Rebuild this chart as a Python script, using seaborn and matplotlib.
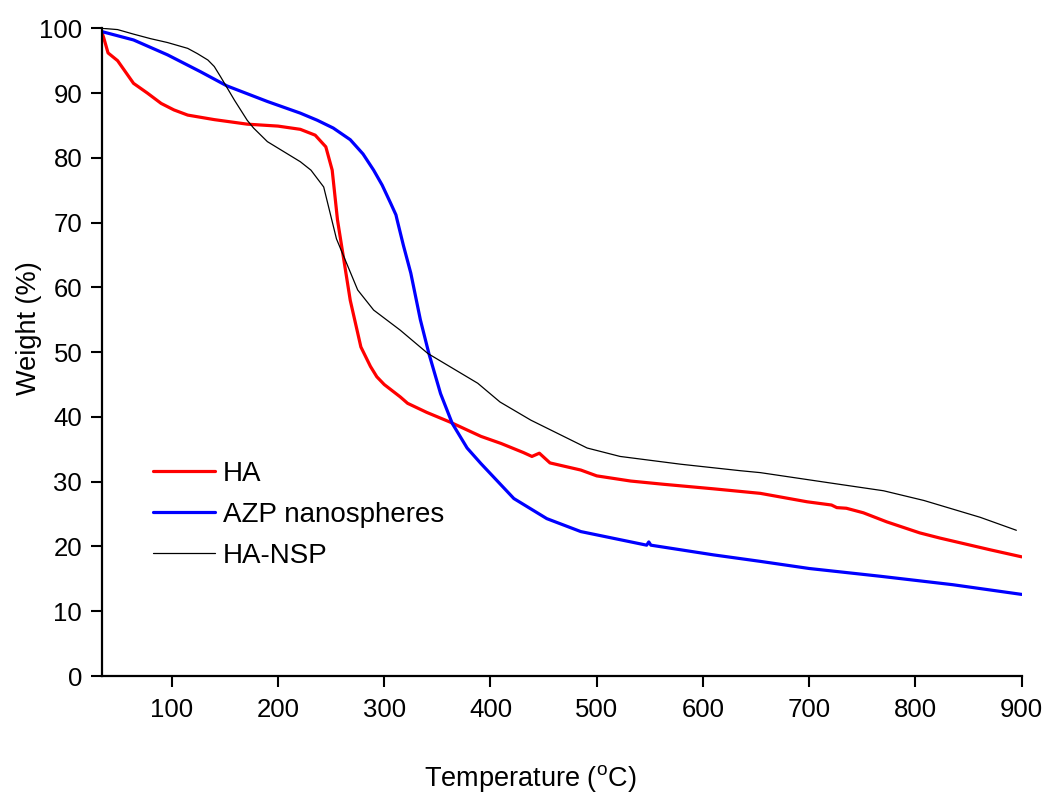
import matplotlib
matplotlib.use("Agg")
import matplotlib.pyplot as plt
import seaborn as sns
import pandas as pd

# ---- data ----
ha_temp = [34, 36, 40, 49, 64, 77, 90, 102, 115, 140, 171, 200, 221, 235, 245, 251, 256, 262,
           268, 278, 287, 293, 300, 315, 322, 340, 362, 391, 410, 431, 439, 446, 456,
           485, 500, 532, 563, 610, 654, 698, 721, 726, 735, 751, 773, 804, 823, 870, 900]
ha_weight = [99.5, 98.5, 96.2, 95.0, 91.5, 90.0, 88.4, 87.4, 86.6, 85.9, 85.2, 84.9, 84.4, 83.5,
             81.7, 78.1, 70.4, 64.2, 58.0, 50.8, 47.8, 46.2, 45.0, 43.1, 42.1, 40.7,
             39.2, 37.0, 35.9, 34.5, 33.9, 34.4, 32.9, 31.8, 30.9, 30.1, 29.6, 28.9,
             28.2, 26.9, 26.4, 26.0, 25.9, 25.2, 23.8, 22.1, 21.3, 19.5, 18.4]

azp_temp = [34, 64, 96, 127, 152, 190, 221, 237, 252, 268, 280, 290, 298, 306, 311, 312,
            318, 325, 334, 342, 353, 364, 378, 391, 422, 453, 485, 547, 549, 551, 610, 654,
            700, 767, 835, 900]
azp_weight = [99.5, 98.2, 95.9, 93.3, 91.1, 88.7, 86.9, 85.8, 84.6, 82.8, 80.6, 78.1,
              75.8, 73.0, 71.2, 70.5, 66.5, 62.2, 55.0, 49.8, 43.6, 39.0, 35.2, 32.8, 27.4,
              24.3, 22.3, 20.2, 20.7, 20.2, 18.7, 17.7, 16.6, 15.4, 14.1, 12.6]

nsp_temp = [34, 49, 64, 80, 96, 115, 124, 134, 140, 146, 159, 171, 177, 190, 221, 231, 243,
            255, 275, 290, 315, 341, 388, 409, 438, 491, 522, 579, 635, 654, 720, 770, 808,
            861, 895]
nsp_weight = [100.0, 99.8, 99.1, 98.4, 97.8, 96.9, 96.1, 95.1, 94.1, 92.5, 88.9, 85.8,
              84.6, 82.5, 79.4, 78.1, 75.5, 67.5, 59.6, 56.5, 53.4, 49.8, 45.2, 42.3,
              39.5, 35.2, 33.9, 32.7, 31.7, 31.4, 29.8, 28.6, 27.1, 24.5, 22.5]

series_names = ["HA", "AZP nanospheres", "HA-NSP"]
series_colors = {"HA": "#ff0000", "AZP nanospheres": "#0000ff", "HA-NSP": "#000000"}
series_widths = {"HA": 2.3, "AZP nanospheres": 2.3, "HA-NSP": 0.9}

x_ticks = [100, 200, 300, 400, 500, 600, 700, 800, 900]
y_ticks = [0, 10, 20, 30, 40, 50, 60, 70, 80, 90, 100]

frames = []
for name, t, w in [("HA", ha_temp, ha_weight),
                   ("AZP nanospheres", azp_temp, azp_weight),
                   ("HA-NSP", nsp_temp, nsp_weight)]:
    frames.append(pd.DataFrame({"Temperature": t, "Weight": w, "Sample": name}))
df = pd.concat(frames, ignore_index=True)

sns.set_style("ticks")
plt.rcParams["font.family"] = ["Liberation Sans", "DejaVu Sans"]
plt.rcParams["mathtext.fontset"] = "custom"
plt.rcParams["mathtext.rm"] = "Liberation Sans"
plt.rcParams["text.color"] = "black"
plt.rcParams["axes.labelcolor"] = "black"

fig = plt.figure(figsize=(10.47, 7.97), dpi=100)
ax = fig.add_axes([0.0971, 0.1518, 0.8787, 0.8127])

for name in series_names:
    sns.lineplot(data=df[df["Sample"] == name], x="Temperature", y="Weight",
                 color=series_colors[name], linewidth=series_widths[name],
                 estimator=None, sort=False, label=name, ax=ax)

ax.set_xlim(34, 900)
ax.set_ylim(0, 100)
ax.set_xticks(x_ticks)
ax.set_yticks(y_ticks)
ax.tick_params(axis="both", direction="out", length=8, width=1.5, labelsize=18.5,
               colors="black")
ax.tick_params(axis="x", pad=8)
ax.tick_params(axis="y", pad=6)
for side in ["left", "bottom"]:
    ax.spines[side].set_linewidth(1.6)
    ax.spines[side].set_color("black")
for side in ["top", "right"]:
    ax.spines[side].set_visible(False)

ax.set_xlabel(r"Temperature ($^{\rm o}$C)", fontsize=19.5)
ax.set_ylabel("Weight (%)", fontsize=19.5)
ax.xaxis.set_label_coords(0.466, -0.135)
ax.yaxis.set_label_coords(-0.065, 0.537)

leg = ax.legend(loc="center left", bbox_to_anchor=(0.146, 0.354),
                bbox_transform=fig.transFigure, frameon=False, fontsize=20,
                handlelength=2.23, handletextpad=0.3, labelspacing=0.55,
                borderpad=0, borderaxespad=0)

fig.savefig("out.png", dpi=100)
